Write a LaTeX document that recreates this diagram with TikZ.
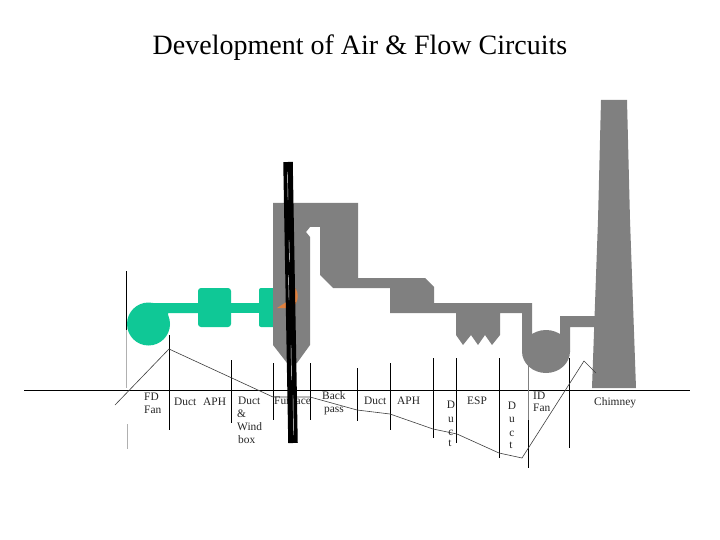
\documentclass[tikz,border=0pt]{standalone}
\usepackage{fontspec}
\setmainfont{Liberation Serif}
\tikzset{
  gas/.style={fill=gasgray,draw=none},
  air/.style={fill=airgreen,draw=none},
  divider/.style={draw=black,line width=1pt},
  fade/.style={draw=fadegray,line width=1pt},
  curve/.style={draw=black!75,line width=0.6pt,line join=miter},
  lab/.style={inner sep=0pt,anchor=mid,yshift=-1.5pt,font=\fontsize{11.4}{13}\selectfont,text=black!85},
  labl/.style={lab,anchor=mid west}
}
\definecolor{gasgray}{HTML}{808080}
\definecolor{airgreen}{HTML}{0FC896}
\definecolor{fadegray}{HTML}{B0B0B0}
\definecolor{flame}{HTML}{E0813F}
\begin{document}
\begin{tikzpicture}[x=1pt,y=-1pt]
\useasboundingbox (0,0) rectangle (720,540);
\fill[white] (0,0) rectangle (720,540);
\node[inner sep=0pt,font=\fontsize{28}{32}\selectfont] (title) at (360,47.5) {Development of Air \& Flow Circuits};
% air side
\fill[air] (148.5,324) circle (21.5);
\fill[air] (148.5,303) -- (200,303) -- (200,313) -- (168,313) -- (168,318) -- (148.5,318) -- cycle;
\fill[air,rounded corners=3pt] (198,288) rectangle (231,327);
\fill[air] (229,303) rectangle (262,313);
\fill[air,rounded corners=2pt] (259,288) -- (259,327) -- (275,327) -- (275,288) -- cycle;
% gas path
\fill[gas] (273,203) -- (358,203) -- (358,278) -- (425,278) -- (434,287) -- (434,303) -- (532,303) -- (532,352)
  -- (522,352) -- (522,313) -- (500,313) -- (500,335) -- (492,345) -- (485,335) -- (478,345) -- (471,335) -- (463,345) -- (456,335)
  -- (456,313) -- (390,313) -- (390,288) -- (333,288) -- (320,275) -- (320,227) -- (310,227) -- (306,232) -- (310,237)
  -- (310,345) -- (297,363) -- (287,363) -- (273,345) -- cycle;
\fill[gas] (546,351.5) ellipse (24 and 21.5);
\fill[gas] (560,316) -- (597,316) -- (597,327) -- (570,327) -- (570,352) -- (560,352) -- cycle;
\fill[gas] (601,100) -- (627,100) -- (630,220) -- (636,388) -- (592,388) -- (598,220) -- cycle;
% flame
\fill[flame] (277,308) -- (288,301) -- (291,285) .. controls (300,288) and (300,304) .. (291,308) -- cycle;
% axis and dividers
\coordinate (axisL) at (24,390); \coordinate (axisR) at (690,390);
\draw[divider] (axisL) -- (axisR);
\draw[divider] (126.5,271) -- (126.5,330);
\draw[fade] (126.5,330) -- (126.5,388);
\draw[fade] (127,424) -- (127,449);
\draw[divider] (169,335) -- (169,430);
\draw[divider] (231,360) -- (231,423);
\draw[divider] (273,363) -- (273,420);
\draw[divider] (310,363) -- (310,420);
\draw[divider] (357,368) -- (357,421);
\draw[divider] (390,363) -- (390,430);
\draw[divider] (433.5,358) -- (433.5,438);
\draw[divider] (456,358) -- (456,443);
\draw[divider] (499.5,358) -- (499.5,458);
\draw[fade,draw=gray] (528,349) -- (528,420);
\draw[divider] (528,420) -- (528,468);
\draw[divider] (569,358) -- (569,448);
% profile curve
\draw[curve] (115,405) -- (169,349) -- (273,397) -- (310,397) -- (357,410) -- (390,414) -- (433,429) -- (457,434) -- (499,453) -- (522,458) -- (584,361) -- (596,373);
% labels
\node[labl] (fd1) at (144,397) {FD};
\node[labl] (fd2) at (144,410) {Fan};
\node[labl] (d1) at (174,402) {Duct};
\node[labl] (a1) at (203,402) {APH};
\node[labl] (w1) at (238,401) {Duct};
\node[labl] (w2) at (237,414) {\&};
\node[labl] (w3) at (237,427) {Wind};
\node[labl] (w4) at (238,440) {box};
\node[labl] (fu) at (274,401) {Furnace};
\node[labl] (b1) at (322,396) {Back};
\node[labl] (b2) at (324,409) {pass};
\node[labl] (d2) at (364,401) {Duct};
\node[labl] (a2) at (397,401) {APH};
\node[lab] (v1) at (451,405) {D};
\node[lab] (v2) at (451,419) {u};
\node[lab] (v3) at (451,432) {c};
\node[lab] (v4) at (450,443) {t};
\node[labl] (es) at (467,401) {ESP};
\node[lab] (x1) at (512,406) {D};
\node[lab] (x2) at (512,419) {u};
\node[lab] (x3) at (512,432.5) {c};
\node[lab] (x4) at (511,445) {t};
\node[labl] (id1) at (533,396) {ID};
\node[labl] (id2) at (533,408) {Fan};
\node[labl] (ch) at (594,402) {Chimney};
% heavy scribbled line
\draw[line width=9.5pt,black] (288,162) -- (293,443);
\draw[white,line width=0.4pt] (287.5,172) -- (288,200);
\draw[white,line width=0.4pt] (289,240) -- (289.5,262);
\draw[white,line width=0.4pt] (288.5,275) -- (289,300);
\draw[white,line width=0.4pt] (291,345) -- (291.5,380);
\draw[white,line width=0.4pt] (293,395) -- (293.5,435);
\end{tikzpicture}
\end{document}
